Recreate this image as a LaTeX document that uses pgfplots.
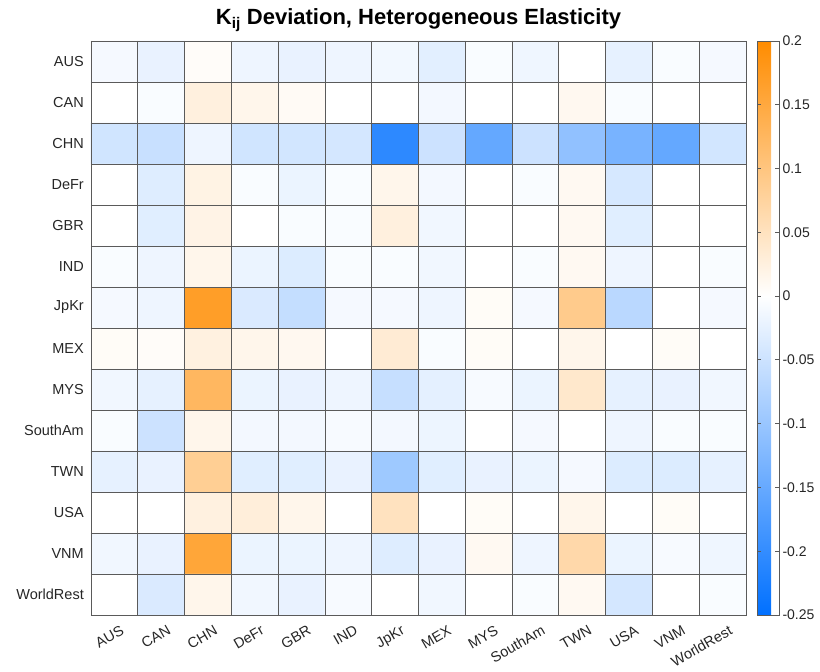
\documentclass[border=0pt]{standalone}
\usepackage{pgfplots}
\pgfplotsset{compat=1.18}
\usepackage{fontspec}
\setmainfont{Liberation Sans}
\definecolor{gridc}{RGB}{90,90,90}
\begin{document}
\begin{tikzpicture}
\begin{axis}[
  scale only axis,
  width=655pt, height=574pt,
  xmin=-0.5, xmax=13.5, ymin=-0.5, ymax=13.5,
  y dir=reverse,
  enlargelimits=false,
  axis on top,
  colormap={kij}{rgb255(0cm)=(0,112,255); rgb255(25cm)=(255,255,255); rgb255(45cm)=(255,140,0)},
  point meta min=-0.25, point meta max=0.2,
  xtick={0,...,13}, ytick={0,...,13},
  xticklabels={AUS,CAN,CHN,DeFr,GBR,IND,JpKr,MEX,MYS,SouthAm,TWN,USA,VNM,WorldRest},
  yticklabels={AUS,CAN,CHN,DeFr,GBR,IND,JpKr,MEX,MYS,SouthAm,TWN,USA,VNM,WorldRest},
  major tick length=0pt,
  minor xtick={-0.5,0.5,...,13.5}, minor ytick={-0.5,0.5,...,13.5},
  minor tick length=0pt,
  grid=minor,
  minor grid style={gridc, line width=0.8pt},
  axis line style={gridc, line width=0.8pt},
  tick label style={font=\fontsize{14.5}{17}\selectfont, color=black!85},
  xticklabel style={rotate=30, anchor=north east, inner sep=1pt, xshift=1pt, yshift=-10pt},
  yticklabel style={inner sep=0pt, xshift=-7pt},
  title={\bfseries K\textsubscript{ij} Deviation, Heterogeneous Elasticity},
  title style={font=\fontsize{22}{26}\selectfont, at={(0.5,1)}, anchor=south, yshift=0pt},
  colorbar right,
  colorbar shift/.style={xshift=11pt},
  colorbar style={
    at={(parent axis.north east)}, anchor=north west,
    width=22pt,
    ytick={-0.25,-0.2,-0.15,-0.1,-0.05,0,0.05,0.1,0.15,0.2},
    yticklabel pos=right,
    tick align=inside,
    major tick length=4pt,
    yticklabel style={font=\fontsize{14}{16}\selectfont, /pgf/number format/fixed, /pgf/number format/precision=2, /pgf/number format/assume math mode=true, xshift=0pt},
    axis line style={gridc, line width=0.8pt},
    tick style={gridc, line width=0.8pt},
  },
]
\addplot[matrix plot*, mesh/cols=14, point meta=explicit] table[x=x, y=y, meta=c] {
x y c
0 0 -0.010
1 0 -0.022
2 0 0.005
3 0 -0.017
4 0 -0.022
5 0 -0.017
6 0 -0.013
7 0 -0.028
8 0 -0.006
9 0 -0.016
10 0 0
11 0 -0.024
12 0 -0.006
13 0 -0.010
0 1 0
1 1 -0.006
2 1 0.026
3 1 0.016
4 1 0.008
5 1 0
6 1 0
7 1 -0.012
8 1 0
9 1 0
10 1 0.012
11 1 -0.006
12 1 0
13 1 0
0 2 -0.046
1 2 -0.054
2 2 -0.017
3 2 -0.046
4 2 -0.044
5 2 -0.042
6 2 -0.206
7 2 -0.050
8 2 -0.152
9 2 -0.050
10 2 -0.108
11 2 -0.132
12 2 -0.152
13 2 -0.044
0 3 0
1 3 -0.032
2 3 0.021
3 3 -0.006
4 3 -0.020
5 3 -0.006
6 3 0.016
7 3 -0.012
8 3 0
9 3 -0.006
10 3 0.010
11 3 -0.040
12 3 0
13 3 0
0 4 0
1 4 -0.030
2 4 0.020
3 4 0
4 4 -0.006
5 4 -0.006
6 4 0.026
7 4 -0.014
8 4 0
9 4 0
10 4 0.010
11 4 -0.030
12 4 0
13 4 0
0 5 -0.006
1 5 -0.017
2 5 0.016
3 5 -0.020
4 5 -0.034
5 5 -0.006
6 5 -0.006
7 5 -0.014
8 5 0
9 5 -0.006
10 5 0.010
11 5 -0.017
12 5 0
13 5 -0.006
0 6 -0.010
1 6 -0.017
2 6 0.169
3 6 -0.036
4 6 -0.058
5 6 -0.010
6 6 -0.010
7 6 -0.017
8 6 0.006
9 6 -0.010
10 6 0.090
11 6 -0.068
12 6 0
13 6 -0.010
0 7 0.006
1 7 0.005
2 7 0.024
3 7 0.016
4 7 0.012
5 7 0
6 7 0.034
7 7 -0.006
8 7 0.006
9 7 0
10 7 0.016
11 7 0
12 7 0.006
13 7 0
0 8 -0.014
1 8 -0.024
2 8 0.125
3 8 -0.020
4 8 -0.022
5 8 -0.017
6 8 -0.056
7 8 -0.026
8 8 -0.008
9 8 -0.020
10 8 0.040
11 8 -0.024
12 8 -0.022
13 8 -0.014
0 9 -0.006
1 9 -0.050
2 9 0.016
3 9 -0.012
4 9 -0.012
5 9 -0.008
6 9 -0.012
7 9 -0.018
8 9 0
9 9 -0.010
10 9 0
11 9 -0.017
12 9 -0.006
13 9 -0.006
0 10 -0.024
1 10 -0.022
2 10 0.084
3 10 -0.030
4 10 -0.030
5 10 -0.022
6 10 -0.095
7 10 -0.030
8 10 -0.022
9 10 -0.020
10 10 -0.010
11 10 -0.034
12 10 -0.034
13 10 -0.024
0 11 0
1 11 0
2 11 0.024
3 11 0.029
4 11 0.016
5 11 0
6 11 0.050
7 11 0
8 11 0.006
9 11 0
10 11 0.016
11 11 0
12 11 0.006
13 11 0
0 12 -0.014
1 12 -0.022
2 12 0.155
3 12 -0.020
4 12 -0.020
5 12 -0.017
6 12 -0.032
7 12 -0.022
8 12 0.010
9 12 -0.017
10 12 0.067
11 12 -0.020
12 12 -0.008
13 12 -0.016
0 13 0
1 13 -0.036
2 13 0.016
3 13 -0.014
4 13 -0.022
5 13 -0.008
6 13 0
7 13 -0.014
8 13 0
9 13 -0.006
10 13 0.010
11 13 -0.042
12 13 0
13 13 -0.006
};
\end{axis}
\path (current axis.south west) ++(-91pt,-56pt) coordinate (bbA);
\path (current axis.north east) ++(74pt,41pt) coordinate (bbB);
\path (bbA) rectangle (bbB);
\end{tikzpicture}
\end{document}
